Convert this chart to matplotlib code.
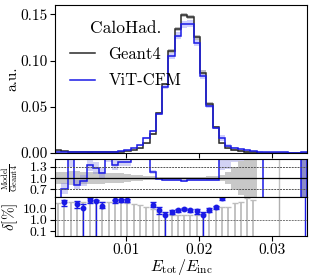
import numpy as np
import matplotlib
matplotlib.use('Agg')
import matplotlib.pyplot as plt
from matplotlib.lines import Line2D

plt.rcParams['font.family'] = 'serif'
plt.rcParams['font.serif'] = ['cmr10']
plt.rcParams['mathtext.fontset'] = 'cm'
plt.rcParams['axes.formatter.use_mathtext'] = True
plt.rcParams['axes.unicode_minus'] = False

# 40 bins in E_tot/E_inc
edges = np.linspace(0.0003, 0.0348, 41)

# normalised histograms (a.u.)
geant4 = np.array([0.0030, 0.0018, 0.0008, 0.0008, 0.0007, 0.0006, 0.0007, 0.0008, 0.0008, 0.0011,
                   0.0015, 0.0021, 0.0030, 0.0050, 0.0105, 0.0205, 0.0435, 0.0745, 0.1100, 0.1340,
                   0.1490, 0.1466, 0.1250, 0.0870, 0.0530, 0.0280, 0.0105, 0.0051, 0.0032, 0.0022,
                   0.0012, 0.0007, 0.0, 0.0, 0.0, 0.0, 0.0, 0.0, 0.0, 0.0001])
vitcfm = np.array([0.0012, 0.0013, 0.0013, 0.00066, 0.00065, 0.0008, 0.00088, 0.0009, 0.0013, 0.00147,
                   0.00215, 0.0030, 0.0055, 0.0085, 0.0165, 0.0238, 0.0420, 0.0715, 0.1050, 0.1270,
                   0.1390, 0.1400, 0.1190, 0.0830, 0.0505, 0.0265, 0.0160, 0.0079, 0.0057, 0.0040,
                   0.0030, 0.0022, 0.0016, 0.0012, 0.0010, 0.0008, 0.0006, 0.0005, 0.0004, 0.0006])

# relative statistical uncertainties
geant4_relerr = np.array([0.17, 0.17, 0.18, 0.18, 0.17, 0.16, 0.15, 0.15, 0.14, 0.13,
                          0.12, 0.10, 0.09, 0.07, 0.05, 0.04, 0.03, 0.02, 0.02, 0.015,
                          0.015, 0.015, 0.02, 0.03, 0.05, 0.06, 0.08, 0.15, 0.30, 0.45,
                          0.70, 0.70, np.nan, np.nan, np.nan, np.nan, np.nan, np.nan, np.nan, 0.70])
vitcfm_relerr = np.array([0.20, 0.20, 0.20, 0.15, 0.15, 0.12, 0.12, 0.12, 0.12, 0.10,
                          0.08, 0.08, 0.08, 0.07, 0.07, 0.05, 0.03, 0.03, 0.03, 0.03,
                          0.03, 0.03, 0.03, 0.03, 0.03, 0.04, 0.20, 0.20, 0.20, 0.20,
                          0.20, 0.20, 0.20, np.nan, np.nan, np.nan, np.nan, np.nan, np.nan, 0.90])

# delta [%] panel
delta_geant4 = np.array([30, 33, 33, 35, 40, 40, 40, 38, 35, 35,
                         33, 30, 26, 18, 12.7, 9.4, 4.8, 3.4, 2.7, 2.7,
                         2.7, 2.7, 2.7, 3.0, 6.7, 10, 12, 12, 30, 40,
                         80, 60, np.nan, np.nan, np.nan, np.nan, np.nan, np.nan, np.nan, np.nan])
delta_vitcfm = np.array([np.nan, 35, np.nan, 26, 10.6, 55, 43, 16, np.nan, 50,
                         52, 52, np.nan, np.nan, np.nan, 21, 6.7, 2.5, 4.8, 6.7,
                         9.4, 6.7, 5.5, 2.8, 7.7, 12.9, 80, np.nan, np.nan, np.nan,
                         np.nan, np.nan, np.nan, np.nan, np.nan, np.nan, np.nan, np.nan, np.nan, np.nan])
delta_vitcfm_lo = np.array([np.nan, 15, np.nan, 10, 0.01, 30, 0.01, 10, np.nan, 30,
                            35, 35, np.nan, np.nan, np.nan, 12, 3, 0.01, 3, 4.5,
                            7, 4.5, 3, 0.01, 5, 9, 60, np.nan, np.nan, np.nan,
                            np.nan, np.nan, np.nan, np.nan, np.nan, np.nan, np.nan, np.nan, np.nan, np.nan])
delta_vitcfm_hi = np.array([np.nan, 60, np.nan, 45, 25, 75, 60, 35, np.nan, 60,
                            65, 65, np.nan, np.nan, np.nan, 35, 12, 5, 6.5, 9,
                            11, 9, 8, 5, 10, 16, 100, np.nan, np.nan, np.nan,
                            np.nan, np.nan, np.nan, np.nan, np.nan, np.nan, np.nan, np.nan, np.nan, np.nan])
spike_bins = [35]     # single Geant4 entries with unbounded uncertainty
full_model_bins = [39]

centers = 0.5 * (edges[1:] + edges[:-1])
g4_col = '#2a2a2a'
cfm_col = '#1a1ae6'

W, H = 314, 279
fig = plt.figure(figsize=(W / 100, H / 100), dpi=100)

def px_axes(l, t, r, b):
    return fig.add_axes([l / W, 1 - b / H, (r - l) / W, (b - t) / H])

ax0 = px_axes(55, 5, 307, 153)
ax1 = px_axes(55, 159, 307, 197)
ax2 = px_axes(55, 197, 307, 236)

# ---------------- main panel
g4_err = geant4 * np.nan_to_num(geant4_relerr)
cfm_err = vitcfm * np.nan_to_num(vitcfm_relerr)
ax0.stairs(geant4 + g4_err, edges, baseline=geant4 - g4_err, fill=True, color='#b0b0b0', alpha=0.8, lw=0)
ax0.stairs(vitcfm + cfm_err, edges, baseline=vitcfm - cfm_err, fill=True, color='#a0a0ff', alpha=0.5, lw=0)
ax0.stairs(geant4, edges, color=g4_col, lw=1.1)
ax0.stairs(vitcfm, edges, color=cfm_col, lw=1.1)
ax0.set_xlim(edges[0], edges[-1])
ax0.set_ylim(0, 0.16)
ax0.set_yticks([0.0, 0.05, 0.10, 0.15])
ax0.set_yticklabels(['0.00', '0.05', '0.10', '0.15'])
ax0.set_xticks([0.01, 0.02, 0.03])
ax0.tick_params(labelbottom=False, labelsize=11, pad=2)
ax0.set_ylabel('a.u.', fontsize=11)
handles = [Line2D([], [], color=g4_col, lw=1.1), Line2D([], [], color=cfm_col, lw=1.1)]
leg = ax0.legend(handles, ['Geant4', 'ViT-CFM'], title='CaloHad.', loc='upper left',
                 bbox_to_anchor=(0.0, 0.995), frameon=False, fontsize=12, title_fontsize=12.5,
                 handlelength=1.5, handletextpad=0.8, labelspacing=0.65)

# ---------------- ratio panel
with np.errstate(divide='ignore', invalid='ignore'):
    ratio = np.where(geant4 > 0, vitcfm / geant4, np.nan)
ratio_plot = np.where(np.isnan(ratio) & ~np.isnan(vitcfm_relerr), 10.0, ratio)
ax1.stairs(1 + geant4_relerr, edges, baseline=1 - geant4_relerr, fill=True, color='#c8c8c8', lw=0)
ax1.stairs(ratio * (1 + vitcfm_relerr), edges, baseline=ratio * (1 - vitcfm_relerr), fill=True,
           color='#8080e0', alpha=0.35, lw=0)
for b in full_model_bins:
    ax1.axvspan(edges[b], edges[b + 1], color='#8c8cc8', lw=0)
for b in spike_bins:
    ax1.axvline(centers[b], color='#c0c0c0', lw=1.0)
ax1.stairs(ratio_plot, edges, color=cfm_col, lw=1.1)
ax1.axhline(1.0, color='k', lw=0.9)
for yv in (0.7, 1.3):
    ax1.axhline(yv, color='#555555', lw=0.7, ls=(0, (2, 1)))
ax1.set_xlim(edges[0], edges[-1])
ax1.set_ylim(0.5, 1.5)
ax1.set_yticks([0.7, 1.0, 1.3])
ax1.set_yticklabels(['0.7', '1.0', '1.3'])
ax1.set_xticks([0.01, 0.02, 0.03])
ax1.tick_params(labelbottom=False, labelsize=10, pad=2)
ax1.set_ylabel(r'$\frac{\rm Model}{\rm Geant4}$', fontsize=8.5)

# ---------------- delta panel
ax2.set_yscale('log')
ok = ~np.isnan(delta_geant4)
ax2.errorbar(centers[ok], delta_geant4[ok], yerr=[delta_geant4[ok] * 0.9999, np.zeros(ok.sum())],
             fmt='none', ecolor='#bdbdbd', elinewidth=1.3, capsize=2.2, capthick=1.0)
for b in spike_bins:
    ax2.axvline(centers[b], color='#b0b0b0', lw=1.0)
for b in full_model_bins:
    ax2.axvline(centers[b] + 0.0002, color=cfm_col, lw=1.0)
okm = ~np.isnan(delta_vitcfm)
ax2.errorbar(centers[okm], delta_vitcfm[okm],
             yerr=[delta_vitcfm[okm] - delta_vitcfm_lo[okm], delta_vitcfm_hi[okm] - delta_vitcfm[okm]],
             fmt='o', color=cfm_col, ms=3.2, elinewidth=1.0, capsize=2.0, capthick=1.0)
ax2.axhline(1.0, color='#777777', lw=0.7, ls=(0, (2, 1)))
ax2.set_xlim(edges[0], edges[-1])
ax2.set_ylim(0.036, 100)
ax2.set_yticks([0.1, 1.0, 10.0])
ax2.set_yticklabels(['0.1', '1.0', '10.0'])
ax2.set_xticks([0.01, 0.02, 0.03])
ax2.set_xticklabels(['0.01', '0.02', '0.03'])
ax2.tick_params(labelsize=10, pad=2)
ax2.tick_params(axis='x', labelsize=11)
ax2.set_ylabel(r'$\delta[\%]$', fontsize=11)
ax2.set_xlabel(r'$E_{\rm tot}/E_{\rm inc}$', fontsize=11.5, labelpad=0)

for a in (ax0, ax1, ax2):
    a.yaxis.set_label_coords(-0.14, 0.5)

fig.savefig('out.png', dpi=100)
